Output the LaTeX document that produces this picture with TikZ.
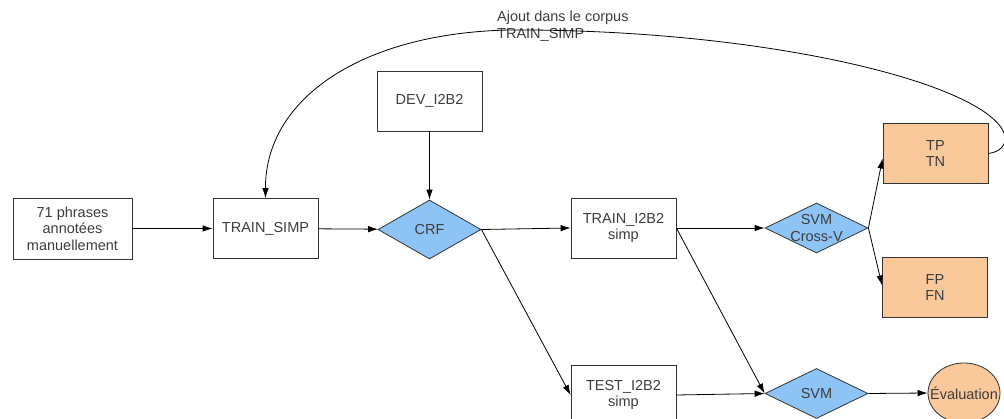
\documentclass[tikz,border=0pt]{standalone}
\usepackage{fontspec}
\setmainfont{Liberation Sans}
\usetikzlibrary{shapes.geometric,arrows.meta,calc}
\definecolor{inkgray}{HTML}{333333}
\definecolor{txtgray}{HTML}{3C3C3C}
\definecolor{dblue}{HTML}{8EC3F5}
\definecolor{lorange}{HTML}{F9C89B}
\begin{document}
\begin{tikzpicture}[x=1pt,y=-1pt,
  font=\fontsize{14.5}{16.5}\selectfont,
  box/.style={draw=inkgray, line width=0.8pt, text=txtgray, align=center,
    inner sep=0pt, minimum width=105pt, minimum height=60pt},
  res/.style={box, fill=lorange},
  decision/.style={diamond, draw=inkgray, fill=dblue, line width=0.8pt,
    inner sep=0pt, minimum width=103pt},
  inlabel/.style={label={[text=txtgray, align=center]center:#1}},
  conn/.style={-{Latex[length=10pt,width=6.5pt]}, line width=0.8pt, black}]

\useasboundingbox (0,0) rectangle (1004,419);

% boxes of the pipeline
\node[box, minimum width=119pt, minimum height=61pt] (src) at (72.5,228.5) {71 phrases\\annotées\\manuellement};
\node[box] (trs) at (265.5,228.5) {TRAIN\_SIMP};
\node[box] (dev) at (429.5,101) {DEV\_I2B2};
\node[decision, minimum height=59pt, inlabel={CRF}] (crf) at (429.5,229.5) {};
\node[box] (tri) at (623.5,228) {TRAIN\_I2B2\\simp};
\node[box] (tei) at (623.5,395) {TEST\_I2B2\\simp};
\node[decision, minimum height=50pt, inlabel={SVM\\Cross-V}] (svmcv) at (816.5,228) {};
\node[decision, minimum height=50pt, inlabel={SVM}] (svm) at (816.5,393.5) {};
\node[res] (tp) at (935.5,153.5) {TP\\TN};
\node[res] (fp) at (935,287.5) {FP\\FN};
\node[ellipse, draw=inkgray, fill=lorange, line width=0.8pt, inner sep=0pt,
  minimum width=72pt, minimum height=60pt, inlabel={Évaluation}] (ev) at (964,393) {};

% feedback label
\node[anchor=north west, align=left, text=txtgray, inner sep=0pt] (lbl) at (497,11)
  {Ajout dans le corpus\\TRAIN\_SIMP};

% connectors
\draw[conn] (src) -- (trs);
\draw[conn] (trs) -- (crf);
\draw[conn] (dev) -- (crf);
\draw[conn] (crf.east) -- (tri.west);
\draw[conn] (crf.east) -- (tei.west);
\draw[conn] (tri.east) -- (svmcv.west);
\draw[conn] (tri.east) -- (svm.west);
\draw[conn] (tei.east) -- (svm.west);
\draw[conn] (svm.east) -- (ev.west);
\draw[conn] (svmcv.east) -- ($(tp.west)+(0,5)$);
\draw[conn] (svmcv.east) -- ($(fp.west)+(0,-2)$);

% feedback loop back into the training corpus
\draw[conn] (tp.east) .. controls (1000,152) and (1008,145) .. (1004,133)
  .. controls (985,85) and (780,32) .. (530,30)
  .. controls (370,27) and (265,95) .. (trs.north);
\end{tikzpicture}
\end{document}
